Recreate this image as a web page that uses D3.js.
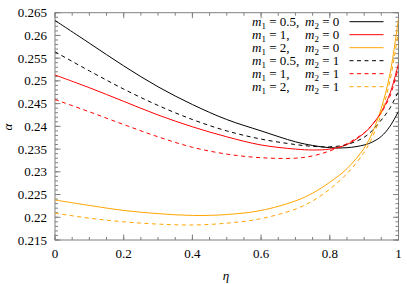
<!DOCTYPE html>
<html>
<head>
<meta charset="utf-8">
<script src="https://cdn.jsdelivr.net/npm/d3@7"></script>
<style>
  body { margin: 0; background: #fff; }
</style>
</head>
<body>
<script>
var eta = [0, 0.1, 0.2, 0.3, 0.4, 0.5, 0.6, 0.7, 0.75, 0.8, 0.85, 0.9, 0.925, 0.95, 0.975, 1];

// m1=0.5,1,2 with m2=0 (solid) and m2=1 (dashed)
var blackSolid  = [0.2633, 0.2583, 0.2533, 0.2487, 0.2448, 0.2415, 0.2390, 0.2366, 0.2358, 0.2353, 0.2353, 0.2359, 0.2366, 0.2378, 0.2400, 0.2433];
var redSolid    = [0.2513, 0.2485, 0.2455, 0.2425, 0.2399, 0.2377, 0.2359, 0.2350, 0.2348, 0.2350, 0.2360, 0.2385, 0.2405, 0.2432, 0.2472, 0.2538];
var orangeSolid = [0.2238, 0.2226, 0.2215, 0.2208, 0.2204, 0.2206, 0.2215, 0.2236, 0.2253, 0.2277, 0.2307, 0.2352, 0.2388, 0.2440, 0.2515, 0.2637];
var blackDash   = [0.2564, 0.2522, 0.2482, 0.2446, 0.2415, 0.2390, 0.2372, 0.2360, 0.2356, 0.2355, 0.2360, 0.2376, 0.2392, 0.2414, 0.2440, 0.2478];
var redDash     = [0.2459, 0.2432, 0.2404, 0.2377, 0.2354, 0.2339, 0.2331, 0.2330, 0.2335, 0.2346, 0.2362, 0.2386, 0.2405, 0.2430, 0.2466, 0.2530];
var orangeDash  = [0.2209, 0.2198, 0.2190, 0.2185, 0.2183, 0.2187, 0.2197, 0.2218, 0.2236, 0.2262, 0.2296, 0.2343, 0.2378, 0.2428, 0.2500, 0.2610];

var m1Labels = ["0.5,", "1,", "2,", "0.5,", "1,", "2,"];
var m2Labels = ["0", "0", "0", "1", "1", "1"];

var xTicks = [0, 0.2, 0.4, 0.6, 0.8, 1];
var yTicks = [0.215, 0.22, 0.225, 0.23, 0.235, 0.24, 0.245, 0.25, 0.255, 0.26, 0.265];

var series = [
  {v: blackSolid,  c: "#000000", dash: null},
  {v: redSolid,    c: "#ff0000", dash: null},
  {v: orangeSolid, c: "#ffa500", dash: null},
  {v: blackDash,   c: "#000000", dash: "4,3.5"},
  {v: redDash,     c: "#ff0000", dash: "4,3.5"},
  {v: orangeDash,  c: "#ffa500", dash: "4,3.5"}
];

var width = 407, height = 284;
var plotL = 55, plotR = 398.5, plotT = 12.7, plotB = 240;
var serif = "'Liberation Serif'";

var svg = d3.select("body").append("svg")
    .attr("width", width)
    .attr("height", height);

var x = d3.scaleLinear().domain([0, 1]).range([plotL, plotR]);
var y = d3.scaleLinear().domain([0.215, 0.265]).range([plotB, plotT]);

var axisColor = "#808080";

// frame ticks (all four sides, inward)
var xMinor = d3.range(0, 1.0001, 0.05);
var yMinor = d3.range(0.215, 0.26501, 0.001);

function drawTicks(vals, len, isX) {
  vals.forEach(function(t) {
    if (isX) {
      var px = x(t);
      svg.append("line").attr("x1", px).attr("x2", px).attr("y1", plotB).attr("y2", plotB - len)
        .attr("stroke", axisColor).attr("stroke-width", 1);
      svg.append("line").attr("x1", px).attr("x2", px).attr("y1", plotT).attr("y2", plotT + len)
        .attr("stroke", axisColor).attr("stroke-width", 1);
    } else {
      var py = y(t);
      svg.append("line").attr("x1", plotL).attr("x2", plotL + len).attr("y1", py).attr("y2", py)
        .attr("stroke", axisColor).attr("stroke-width", 1);
      svg.append("line").attr("x1", plotR).attr("x2", plotR - len).attr("y1", py).attr("y2", py)
        .attr("stroke", axisColor).attr("stroke-width", 1);
    }
  });
}
drawTicks(xMinor, 3, true);
drawTicks(xTicks, 5.5, true);
drawTicks(yMinor, 3, false);
drawTicks(yTicks, 5.5, false);

svg.append("rect")
  .attr("x", plotL).attr("y", plotT)
  .attr("width", plotR - plotL).attr("height", plotB - plotT)
  .attr("fill", "none").attr("stroke", axisColor).attr("stroke-width", 1);

// tick labels
svg.selectAll(".xl").data(xTicks).enter().append("text")
  .style("font-family", serif)
  .attr("x", function(d) { return x(d); })
  .attr("y", 257.5)
  .attr("text-anchor", "middle")
  .attr("font-size", 13)
  .text(function(d) { return d3.format("")(d); });

svg.selectAll(".yl").data(yTicks).enter().append("text")
  .style("font-family", serif)
  .attr("x", 47)
  .attr("y", function(d) { return y(d) + 4.5; })
  .attr("text-anchor", "end")
  .attr("font-size", 13)
  .text(function(d) { return d; });

svg.append("text")
  .style("font-family", serif)
  .attr("x", 226).attr("y", 280)
  .attr("text-anchor", "middle")
  .attr("font-size", 13).attr("font-style", "italic")
  .text("η");

svg.append("text")
  .style("font-family", serif)
  .attr("transform", "translate(12,127) rotate(-90)")
  .attr("text-anchor", "middle")
  .attr("font-size", 13).attr("font-style", "italic")
  .text("α");

// curves
var line = d3.line()
  .x(function(d, i) { return x(eta[i]); })
  .y(function(d) { return y(d); })
  .curve(d3.curveCatmullRom.alpha(0.5));

svg.append("defs").append("clipPath").attr("id", "clip")
  .append("rect").attr("x", plotL).attr("y", plotT).attr("width", plotR - plotL).attr("height", plotB - plotT);

var g = svg.append("g").attr("clip-path", "url(#clip)");
series.forEach(function(s) {
  g.append("path")
    .attr("d", line(s.v))
    .attr("fill", "none")
    .attr("stroke", s.c)
    .attr("stroke-width", 1)
    .attr("stroke-dasharray", s.dash);
});

// legend
var legY0 = 21.7, legStep = 13;
series.forEach(function(s, i) {
  var ly = legY0 + i * legStep;
  g.append("line")
    .attr("x1", 349.5).attr("x2", 383.5)
    .attr("y1", ly).attr("y2", ly)
    .attr("stroke", s.c).attr("stroke-width", 1)
    .attr("stroke-dasharray", s.dash);

  var t1 = svg.append("text").style("font-family", serif)
    .attr("x", 252).attr("y", ly + 4).attr("font-size", 13);
  t1.append("tspan").attr("font-style", "italic").text("m");
  t1.append("tspan").attr("font-size", 9).attr("dy", 3).text("1");
  t1.append("tspan").attr("dy", -3).text(" = " + m1Labels[i]);

  var t2 = svg.append("text").style("font-family", serif)
    .attr("x", 305).attr("y", ly + 4).attr("font-size", 13);
  t2.append("tspan").attr("font-style", "italic").text("m");
  t2.append("tspan").attr("font-size", 9).attr("dy", 3).text("2");
  t2.append("tspan").attr("dy", -3).text(" = " + m2Labels[i]);
});
</script>
</body>
</html>
